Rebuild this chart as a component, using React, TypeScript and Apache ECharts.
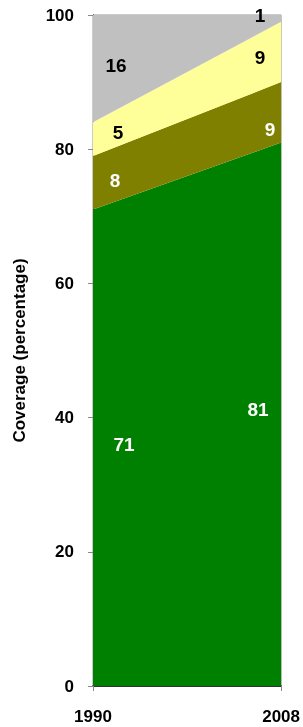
import React, { useEffect, useRef } from "react";
import * as echarts from "echarts";

const years = ["1990", "2008"];
const seriesNames = ["Green", "Olive", "Yellow", "Gray"];
const greenValues = [71, 81];
const oliveValues = [8, 9];
const yellowValues = [5, 9];
const grayValues = [16, 1];

const colors = ["#008000", "#808000", "#FFFF99", "#C0C0C0"];
const labelColors = ["#ffffff", "#ffffff", "#000000", "#000000"];
// pixel offsets of labels [start, end] per series
const labelOffsets = [
  [[31, -3], [-23, -5]],
  [[22, -2], [-11, 17]],
  [[25, -7], [-21, 6]],
  [[23, -3], [-21, -3]],
];

const FONT = "'Liberation Sans', Arial, sans-serif";

export default function App() {
  const ref = useRef<HTMLDivElement>(null);
  useEffect(() => {
    if (!ref.current) return;
    const chart = echarts.init(ref.current, null, { renderer: "svg" });
    const all = [greenValues, oliveValues, yellowValues, grayValues];
    const cum: number[][] = [];
    all.forEach((vals, si) => {
      cum.push(vals.map((v, i) => (si > 0 ? cum[si - 1][i] : 0) + v));
    });
    const series = all.map((vals, si) => ({
      name: seriesNames[si],
      type: "line",
      stack: "total",
      symbol: "none",
      lineStyle: { width: 0 },
      areaStyle: { color: colors[si], opacity: 1 },
      data: vals,
      markPoint: {
        symbol: "rect",
        symbolSize: 1,
        itemStyle: { color: "transparent" },
        data: vals.map((v, i) => ({
          coord: [years[i], cum[si][i] - v / 2],
          value: v,
          label: {
            show: true,
            position: "inside",
            formatter: String(v),
            color: labelColors[si],
            fontFamily: FONT,
            fontWeight: "bold",
            fontSize: 19,
            offset: labelOffsets[si][i],
          },
        })),
      },
    }));
    chart.setOption({
      animation: false,
      grid: {
        left: 93,
        right: 21,
        top: 15,
        bottom: 41,
        show: true,
        borderColor: "#999999",
        borderWidth: 1,
        backgroundColor: "transparent",
      },
      xAxis: {
        type: "category",
        data: years,
        boundaryGap: false,
        axisLine: { show: true, lineStyle: { color: "#000000", width: 1.5 } },
        axisTick: { show: true, length: 5, lineStyle: { color: "#888888" } },
        axisLabel: {
          margin: 22,
          fontFamily: FONT,
          fontWeight: "bold",
          fontSize: 17,
          color: "#000000",
        },
        splitLine: { show: false },
      },
      yAxis: {
        type: "value",
        min: 0,
        max: 100,
        interval: 20,
        name: "Coverage (percentage)",
        nameLocation: "middle",
        nameGap: 65,
        nameTextStyle: {
          fontFamily: FONT,
          fontWeight: "bold",
          fontSize: 17,
          color: "#000000",
        },
        axisLine: { show: true, lineStyle: { color: "#000000", width: 1 } },
        axisTick: { show: true, length: 5, lineStyle: { color: "#888888" } },
        axisLabel: {
          margin: 19,
          fontFamily: FONT,
          fontWeight: "bold",
          fontSize: 17,
          color: "#000000",
        },
        splitLine: { show: false },
      },
      series,
    });
    return () => chart.dispose();
  }, []);
  return (
    <div
      ref={ref}
      style={{ position: "fixed", left: 0, top: 0, width: 303, height: 727 }}
    />
  );
}
